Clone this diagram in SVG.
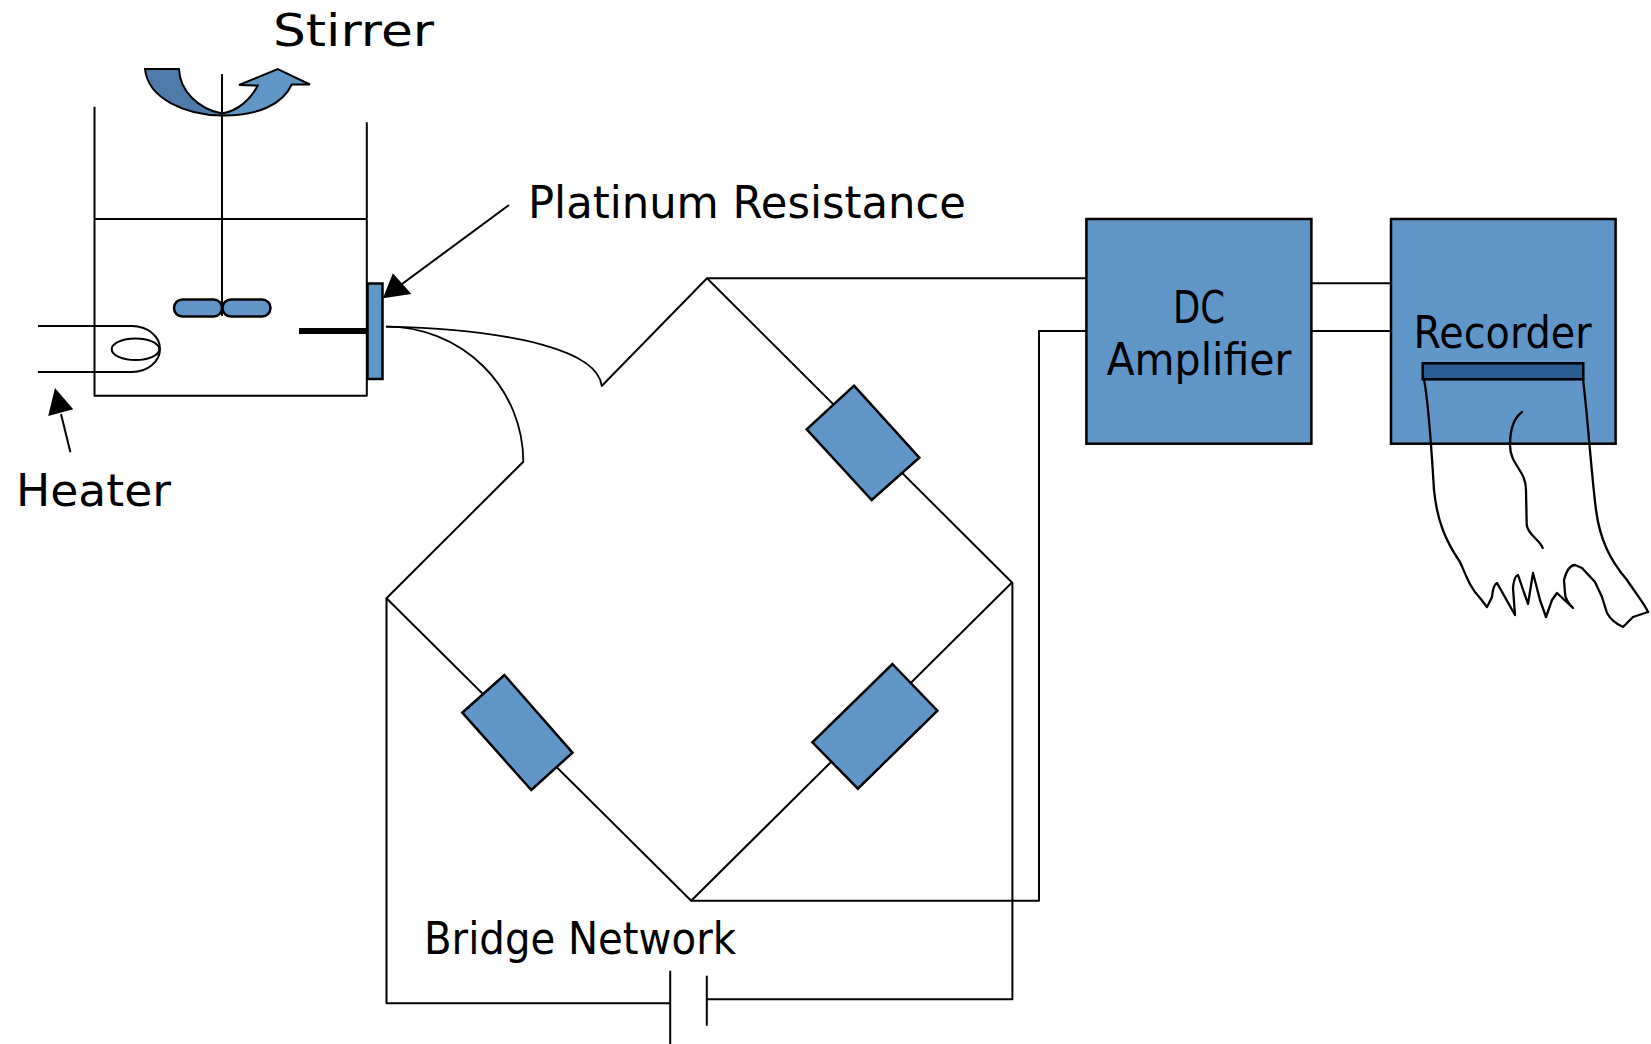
<svg xmlns="http://www.w3.org/2000/svg" width="1651" height="1044" viewBox="0 0 1651 1044">
  <style>
    .wire { fill: none; stroke: #000; stroke-width: 2; stroke-linejoin: round; stroke-linecap: butt; }
    .thin { fill: none; stroke: #000; stroke-width: 1.8; stroke-linejoin: round; stroke-linecap: round; }
    .paper { fill: none; stroke: #000; stroke-width: 2.3; stroke-linejoin: round; stroke-linecap: round; }
    .box { fill: #6196c9; stroke: #000; stroke-width: 2.5; }
    .res { fill: #6196c9; stroke: #000; stroke-width: 2.5; stroke-linejoin: miter; }
    .head { fill: #000; stroke: none; }
    .label { font-family: "DejaVu Sans", "Liberation Sans", sans-serif; font-size: 44px; fill: #000; }
  </style>
  <rect width="1651" height="1044" fill="#fff"/>

  <!-- vessel holding the bath -->
  <g id="beaker">
    <path class="wire" d="M94.5,106.7 V395.7 H366.8 V122.3" stroke-width="2.5"/>
    <line class="wire" x1="94.5" y1="219" x2="366.8" y2="219" stroke-width="2.5"/>
  </g>

  <!-- stirrer: shaft, paddles and rotation arrow -->
  <g id="stirrer">
    <path d="M145,69 L179,69 C180,91 198,109 222,113.5 L222,115.5 C186,115 148,99 145,69 Z" fill="#4f7bab" stroke="#000" stroke-width="2"/>
    <path d="M222,113.5 C238,111 251,99 257.7,85.5 L239,85 L277.7,69 L310,84.5 L291.7,84.5 C283,104 258,116 222,115.5 Z" fill="#6196c9" stroke="#000" stroke-width="2"/>
    <line class="wire" x1="222" y1="74" x2="222" y2="316"/>
    <rect class="box" x="174" y="299.5" width="48" height="17" rx="8.5" stroke-width="2"/>
    <rect class="box" x="222.5" y="299.5" width="48" height="17" rx="8.5" stroke-width="2"/>
  </g>

  <!-- heater coil entering the bath -->
  <g id="heater">
    <path class="wire" d="M38,326 H132 A28,23 0 0 1 132,372 H38"/>
    <ellipse class="wire" cx="135.5" cy="349.2" rx="23.8" ry="10.8"/>
  </g>

  <!-- platinum resistance thermometer on the vessel wall -->
  <g id="platinum-resistance">
    <line x1="299" y1="331" x2="368" y2="331" stroke="#000" stroke-width="6"/>
    <rect class="box" x="367.5" y="283.5" width="15" height="95.5"/>
  </g>

  <!-- Wheatstone bridge arms -->
  <g id="bridge">
    <polyline class="wire" points="601.7,386 707,278.3 1012,582.5 691.2,900.7 386.5,598.3 523.3,461.7"/>
  </g>

  <g id="resistor-upper-right">
    <polygon class="res" points="854,385.7 919.3,457.7 871.7,500 806.7,429.3"/>
  </g>
  <g id="resistor-lower-left">
    <polygon class="res" points="504.4,675 572.5,752.7 531.3,790 462.3,712.7"/>
  </g>
  <g id="resistor-lower-right">
    <polygon class="res" points="892.4,664 937.4,710.7 857.9,788.7 812.4,742.3"/>
  </g>

  <!-- supply cell -->
  <g id="battery">
    <line class="wire" x1="670.2" y1="970.7" x2="670.2" y2="1044"/>
    <line class="wire" x1="706.8" y1="975.7" x2="706.8" y2="1025.7"/>
  </g>

  <g id="dc-amplifier">
    <rect class="box" x="1086.4" y="219" width="225" height="224.7"/>
    <text class="label" x="1199" y="323.3" text-anchor="middle" textLength="52" lengthAdjust="spacingAndGlyphs">DC</text>
    <text class="label" x="1199" y="375" text-anchor="middle" textLength="185" lengthAdjust="spacingAndGlyphs">Amplifier</text>
  </g>

  <g id="recorder">
    <rect class="box" x="1391" y="219" width="224.6" height="224.7"/>
    <text class="label" x="1502.5" y="348.3" text-anchor="middle" textLength="178" lengthAdjust="spacingAndGlyphs">Recorder</text>
    <rect x="1422.7" y="363.3" width="160.6" height="16" fill="#2a5e92" stroke="#000" stroke-width="2.5"/>
    <!-- chart paper and pen trace -->
    <path class="paper" d="M1424,379 C1428,400 1431,440 1434,490 C1437,520 1445,540 1460,562 C1466,575 1470,588 1480,598 L1487,607
      L1492,597 Q1493,585 1497,583 L1515,615 L1513,588 Q1514,576 1518,575 L1528,604 L1533,573 L1540,600 L1546,617 L1552,600 L1557,593
      L1573,608 Q1565,600 1565,593 L1564,580 Q1568,565 1575,565 L1582,568 L1595,582 L1602,597 L1607,613 Q1612,622 1623,627 L1633,617 L1648,612"/>
    <path class="paper" d="M1583,379 C1588,420 1591,470 1596,510 C1600,540 1610,560 1627,580 C1637,595 1645,605 1648,612"/>
    <path class="paper" d="M1522,412 C1514,418 1510,430 1510,445 C1510,465 1526,470 1526,490 L1526.7,525 C1528,535 1540,540 1542.7,548"/>
  </g>

  <!-- wiring between components -->
  <g id="connectors">
    <path class="thin" d="M386.7,326.7 C520,330 598,352 601.7,386"/>
    <path class="thin" d="M386.7,326.7 A136.6,135 0 0 1 523.3,461.7"/>
    <line class="wire" x1="707" y1="278.3" x2="1086.4" y2="278.3"/>
    <polyline class="wire" points="691.2,900.7 1039,900.7 1039,331 1086.4,331"/>
    <polyline class="wire" points="386.5,598.3 386.5,1003.3 670.2,1003.3"/>
    <polyline class="wire" points="706.8,999.3 1012.4,999.3 1012.4,582.5"/>
    <line class="wire" x1="1311.4" y1="283.3" x2="1391" y2="283.3"/>
    <line class="wire" x1="1311.4" y1="331" x2="1391" y2="331"/>
    <!-- label pointers -->
    <line class="wire" x1="509" y1="205" x2="400" y2="285.5"/>
    <polygon class="head" points="382.9,298.3 411.4,294 392.9,273.3"/>
    <line class="wire" x1="70.4" y1="452.3" x2="61" y2="414"/>
    <polygon class="head" points="55,388 73.2,409.3 48.2,416"/>
  </g>

  <g id="labels">
    <text class="label" x="273" y="46" textLength="161" lengthAdjust="spacingAndGlyphs">Stirrer</text>
    <text class="label" x="528" y="218" textLength="438" lengthAdjust="spacingAndGlyphs">Platinum Resistance</text>
    <text class="label" x="16" y="506" textLength="155" lengthAdjust="spacingAndGlyphs">Heater</text>
    <text class="label" x="424" y="954" textLength="312" lengthAdjust="spacingAndGlyphs">Bridge Network</text>
  </g>
</svg>
